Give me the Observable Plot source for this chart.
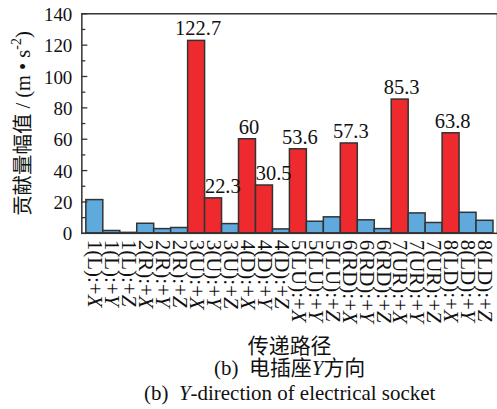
<!DOCTYPE html>
<html>
<head>
<meta charset="utf-8">
<script src="https://cdn.jsdelivr.net/npm/d3@7"></script>
<script src="https://cdn.jsdelivr.net/npm/@observablehq/plot@0.6"></script>
<style>
  html, body { margin: 0; padding: 0; background: #fff; overflow: hidden; }
  #chart svg { display: block; }
</style>
</head>
<body>
<div id="chart"></div>
<script>
// Transfer paths (excitation point : direction)
const paths = [
  "1(L):+X", "1(L):+Y", "1(L):+Z",
  "2(R):+X", "2(R):+Y", "2(R):+Z",
  "3(U):+X", "3(U):+Y", "3(U):+Z",
  "4(D):+X", "4(D):+Y", "4(D):+Z",
  "5(LU):+X", "5(LU):+Y", "5(LU):+Z",
  "6(RD):+X", "6(RD):+Y", "6(RD):+Z",
  "7(UR):+X", "7(UR):+Y", "7(UR):+Z",
  "8(LD):+X", "8(LD):+Y", "8(LD):+Z"
];

// Contribution amplitude, m·s^-2
const values = [
  21.2, 1.5, 0.3,
  6.1, 2.7, 3.4,
  122.7, 22.3, 5.9,
  60, 30.5, 2.5,
  53.6, 7.4, 10.2,
  57.3, 8.3, 2.7,
  85.3, 12.7, 6.6,
  63.8, 13.1, 8.0
];

// Dominant paths, drawn in red and labelled with their value
const dominant = [
  "3(U):+X", "3(U):+Y", "4(D):+X", "4(D):+Y",
  "5(LU):+X", "6(RD):+X", "7(UR):+X", "8(LD):+X"
];

const yTicks = [0, 20, 40, 60, 80, 100, 120, 140];
const yMinorTicks = [10, 30, 50, 70, 90, 110, 130];

// Text; *...* is italic, ^...^ is superscript
const yTitle = "贡献量幅值 / (m • s^-2^)";
const xTitle = "传递路径";
const captionZh = "(b)\u00a0\u00a0电插座*Y*方向";
const captionEn = "(b)\u00a0\u00a0*Y*-direction of electrical socket";

const rows = paths.map((path, i) => ({path, value: values[i], major: dominant.includes(path)}));
// a label that follows a taller labelled bar is set flush-left on its bar
const labels = rows
  .map((d, i) => ({...d, shifted: d.major && i > 0 && rows[i - 1].major && rows[i - 1].value > d.value}))
  .filter(d => d.major);

const serif = '"Liberation Serif", "Times New Roman", "Noto Sans CJK SC", serif';
const ink = "#333";
const W = 498, H = 409, ML = 81.5, MT = 13.3, MB = H - 233.3;
const plotW = W - ML;
const band = plotW / paths.length;

const chart = Plot.plot({
  width: W,
  height: H,
  marginLeft: ML,
  marginRight: 0,
  marginTop: MT,
  marginBottom: MB,
  style: {fontFamily: serif, background: "#fff", color: "#111", overflow: "visible"},
  x: {domain: paths, padding: 0, label: null},
  y: {domain: [0, 140], label: null},
  marks: [
    Plot.barY(rows, {
      x: "path", y: "value",
      fill: d => d.major ? "#ee2a2e" : "#5fa9dc",
      stroke: ink, strokeWidth: 1.5
    }),
    Plot.frame({stroke: ink, strokeWidth: 1.5}),
    // inward tick marks on the left axis
    Plot.ruleY(yMinorTicks, {stroke: ink, strokeWidth: 1.3, insetRight: plotW - 4}),
    Plot.ruleY(yTicks, {stroke: ink, strokeWidth: 1.3, insetRight: plotW - 6}),
    Plot.axisY({ticks: yTicks, tickSize: 0, tickPadding: 9.5, fontSize: 19, dy: 1, label: null, fill: "#111", fontFamily: serif}),
    Plot.axisX({
      tickSize: 0, tickPadding: 6.5, tickRotate: 90, fontSize: 21, label: null, fill: "#111", fontFamily: serif,
      tickFormat: d => d.replace(/[XYZ]$/, "*$&*")
    }),
    // value labels
    Plot.text(labels.filter(d => !d.shifted), {
      x: "path", y: "value", text: d => String(d.value),
      lineAnchor: "bottom", dy: -5.5, dx: 1.5, fontSize: 20.5, fill: "#111", fontFamily: serif
    }),
    Plot.text(labels.filter(d => d.shifted), {
      x: "path", y: "value", text: d => String(d.value),
      lineAnchor: "bottom", textAnchor: "start", dy: -5.5, dx: -band / 2, fontSize: 20.5, fill: "#111", fontFamily: serif
    }),
    // axis titles and captions
    Plot.text([yTitle], {frameAnchor: "left", textAnchor: "middle", lineAnchor: "middle", rotate: -90, dx: -59, fontSize: 20.5, fill: "#111", fontFamily: serif}),
    Plot.text([xTitle], {frameAnchor: "bottom", textAnchor: "middle", lineAnchor: "bottom", dy: 120, fontSize: 21, fill: "#111", fontFamily: serif}),
    Plot.text([captionZh], {frameAnchor: "bottom", textAnchor: "middle", lineAnchor: "bottom", dy: 141.5, fontSize: 21, fill: "#111", fontFamily: serif}),
    Plot.text([captionEn], {frameAnchor: "bottom", textAnchor: "middle", lineAnchor: "bottom", dy: 166.7, fontSize: 21, fill: "#111", fontFamily: serif})
  ]
});

// Turn the inline markup into italic and superscript tspans
d3.select(chart).selectAll("text").each(function () {
  const s = this.textContent;
  if (!/[*^]/.test(s)) return;
  const fs = parseFloat(this.getAttribute("font-size")) || parseFloat(this.parentNode.getAttribute("font-size")) || 20;
  const el = d3.select(this);
  el.text(null);
  let raise = 0;
  for (const part of s.split(/(\*[^*]+\*|\^[^^]+\^)/).filter(Boolean)) {
    const t = el.append("tspan");
    if (part[0] === "*") {
      t.attr("font-style", "italic").text(part.slice(1, -1));
    } else if (part[0] === "^") {
      raise = 0.42 * fs;
      t.attr("font-size", 0.68 * fs).attr("dy", -raise).text(part.slice(1, -1));
      continue;
    } else {
      t.text(part);
    }
    if (raise) { t.attr("dy", raise); raise = 0; }
  }
});

document.getElementById("chart").append(chart);
</script>
</body>
</html>
